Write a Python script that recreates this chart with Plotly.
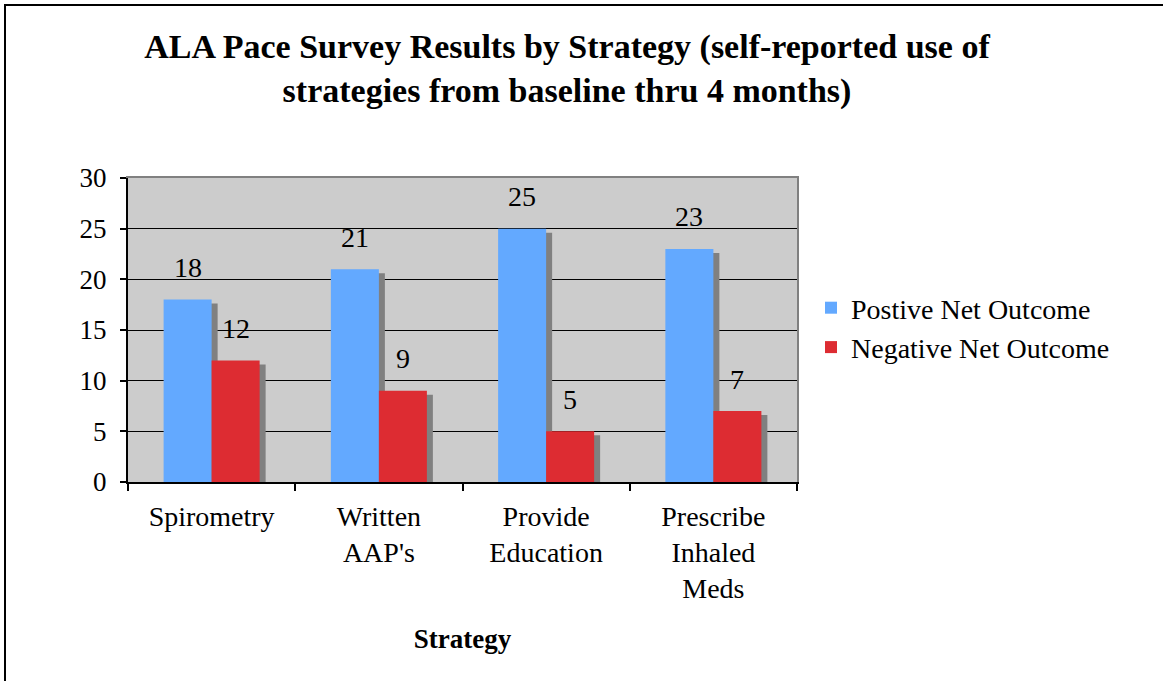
import plotly.graph_objects as go

categories = ["Spirometry", "Written<br>AAP's", "Provide<br>Education", "Prescribe<br>Inhaled<br>Meds"]
positive = [18, 21, 25, 23]
negative = [12, 9, 5, 7]
series_names = ["Postive Net Outcome", "Negative Net Outcome"]
y_ticks = [0, 5, 10, 15, 20, 25, 30]

BLUE = "#63a9ff"
RED = "#dd2c32"
SHADOW = "#808080"
FONT = "Liberation Serif"

W, H = 1163, 681
ML, MR, MT, MB = 128, 366, 178, 199
plot_w = W - ML - MR
plot_h = H - MT - MB
cat_px = plot_w / len(categories)
unit_px = plot_h / 30.0
dx = 6 / cat_px      # shadow offset right (in category units)
dy = 4 / unit_px     # shadow offset down (in value units)

fig = go.Figure()

# shadows (main, invisible axes, shifted)
for vals, name in zip([positive, negative], series_names):
    fig.add_trace(go.Bar(x=categories, y=vals, marker=dict(color=SHADOW, line=dict(width=0)),
                         showlegend=False, hoverinfo="skip", xaxis="x", yaxis="y",
                         offsetgroup=name))

# real bars on overlay axes
for vals, name, col in zip([positive, negative], series_names, [BLUE, RED]):
    fig.add_trace(go.Bar(x=categories, y=vals, name=name,
                         marker=dict(color=col, line=dict(width=0)),
                         xaxis="x2", yaxis="y2", offsetgroup=name))

# data labels
bar_w_px = cat_px * (1 - 0.426) / 2
for vals, sign in zip([positive, negative], [-1, 1]):
    for c, v in zip(categories, vals):
        fig.add_annotation(x=c, y=v, xref="x2", yref="y2", text=str(v), showarrow=False,
                           xshift=sign * bar_w_px / 2, yshift=32, yanchor="middle",
                           font=dict(family=FONT, size=28, color="black"))

fig.update_layout(
    width=W, height=H,
    margin=dict(l=ML, r=MR, t=MT, b=MB),
    paper_bgcolor="white", plot_bgcolor="#cccccc",
    barmode="group", bargap=0.426, bargroupgap=0,
    font=dict(family=FONT, color="black"),
    title=dict(text="<b>ALA Pace Survey Results by Strategy (self-reported use of<br>strategies from baseline thru 4 months)</b>",
               x=(567 - ML) / plot_w, xref="paper", xanchor="center",
               y=1 - 58 / H, yref="container", yanchor="middle",
               font=dict(family=FONT, size=34, color="black")),
    xaxis=dict(range=[-0.5 - dx, len(categories) - 0.5 - dx], showgrid=False, zeroline=False,
               showticklabels=False, ticks="", side="top", showline=True, linecolor=SHADOW,
               linewidth=2, fixedrange=True),
    yaxis=dict(range=[dy, 30 + dy], showgrid=False, zeroline=False, showticklabels=False,
               ticks="", side="right", showline=True, linecolor=SHADOW, linewidth=2),
    xaxis2=dict(overlaying="x", range=[-0.5, len(categories) - 0.5], showgrid=False,
                zeroline=False, showline=True, linecolor="black", linewidth=2,
                ticks="outside", tickson="boundaries", ticklen=7, tickwidth=2, tickcolor="black",
                ticklabelstandoff=8,
                tickfont=dict(family=FONT, size=28, color="black"),
                title=dict(text="<b>Strategy</b>", standoff=26,
                           font=dict(family=FONT, size=27, color="black")),
                side="bottom", anchor="y2"),
    yaxis2=dict(overlaying="y", range=[0, 30], tickvals=y_ticks, showgrid=True,
                gridcolor="black", gridwidth=1, zeroline=False, showline=True,
                linecolor="black", linewidth=2, ticks="outside", ticklen=6, tickwidth=2,
                tickcolor="black", ticklabelstandoff=8,
                tickfont=dict(family=FONT, size=27, color="black"), side="left", anchor="x2"),
    legend=dict(x=(811 - ML) / plot_w, y=(MT + plot_h - 283) / plot_h, xanchor="left",
                yanchor="top", font=dict(family=FONT, size=28, color="black"),
                bgcolor="rgba(0,0,0,0)", tracegroupgap=4),
    showlegend=True,
)

# outer chart frame
fig.add_shape(type="rect", xref="paper", yref="paper",
              x0=(5 - ML) / plot_w, x1=(W + 20 - ML) / plot_w,
              y0=(MT + plot_h - (H + 20)) / plot_h, y1=(MT + plot_h - 5) / plot_h,
              line=dict(color="black", width=2), fillcolor="rgba(0,0,0,0)", layer="above")

fig.write_html("out.html", config={"displayModeBar": False},
               post_script="document.body.style.margin='0px';document.body.style.overflow='hidden';")
